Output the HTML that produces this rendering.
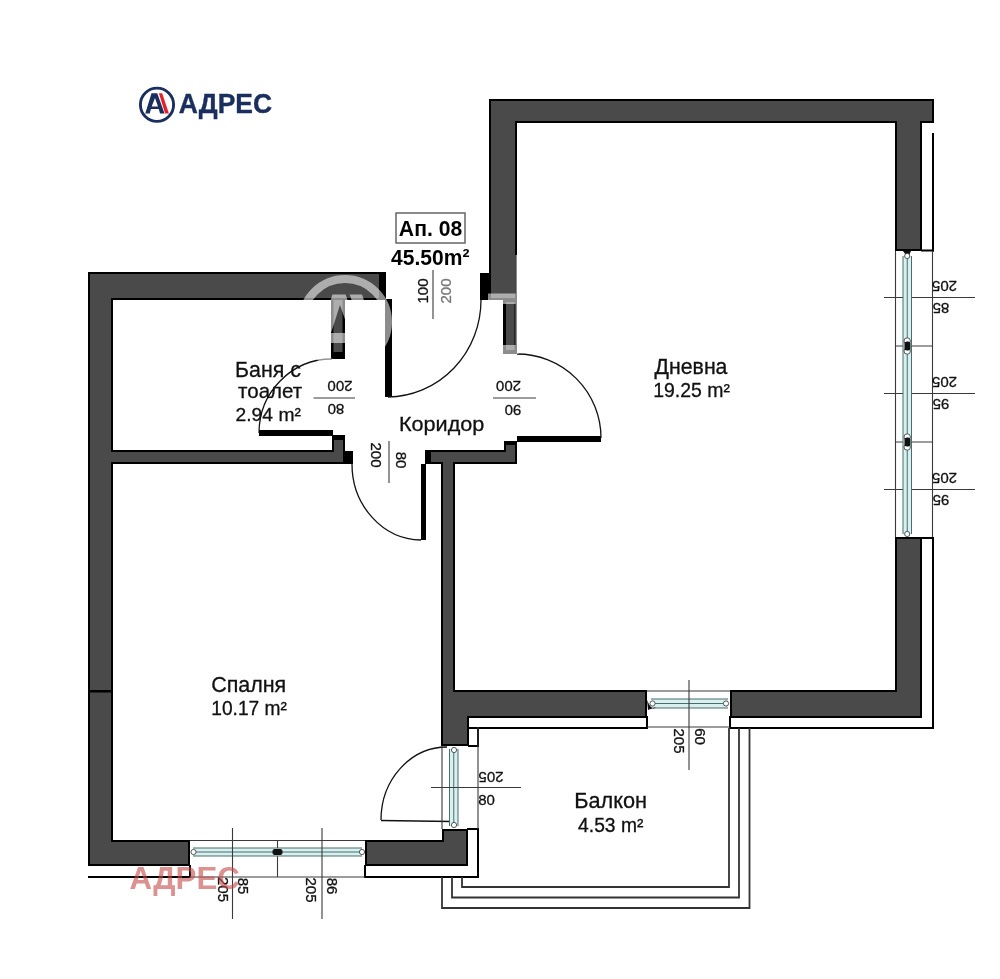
<!DOCTYPE html>
<html><head><meta charset="utf-8"><style>
html,body{margin:0;padding:0;background:#fff;}
body{width:1000px;height:979px;overflow:hidden;font-family:"Liberation Sans",sans-serif;}
svg{display:block;filter:blur(0.35px);}
</style></head><body>
<svg width="1000" height="979" viewBox="0 0 1000 979"><rect width="1000" height="979" fill="#ffffff"/><path d="M491.0,101.0H932.0V121.0H491.0ZM491.0,101.0H515.0V298.0H491.0ZM897.0,101.0H920.0V249.0H897.0ZM897.0,539.0H920.0V716.0H897.0ZM443.0,692.0H645.0V716.0H443.0ZM732.0,692.0H920.0V716.0H732.0ZM443.0,457.0H453.0V698.0H443.0ZM443.0,692.0H467.0V744.0H443.0ZM427.0,452.0H515.0V462.0H427.0ZM506.0,443.0H515.0V462.0H506.0ZM90.0,274.0H384.0V298.0H90.0ZM90.0,274.0H111.0V864.0H90.0ZM102.0,452.0H343.0V462.0H102.0ZM334.0,437.0H343.0V462.0H334.0ZM90.0,842.0H188.0V864.0H90.0ZM367.0,842.0H466.0V864.0H367.0ZM444.0,831.0H466.0V864.0H444.0Z" fill="#000" stroke="#000" stroke-width="4.0"/><path d="M491.0,101.0H932.0V121.0H491.0ZM491.0,101.0H515.0V298.0H491.0ZM897.0,101.0H920.0V249.0H897.0ZM897.0,539.0H920.0V716.0H897.0ZM443.0,692.0H645.0V716.0H443.0ZM732.0,692.0H920.0V716.0H732.0ZM443.0,457.0H453.0V698.0H443.0ZM443.0,692.0H467.0V744.0H443.0ZM427.0,452.0H515.0V462.0H427.0ZM506.0,443.0H515.0V462.0H506.0ZM90.0,274.0H384.0V298.0H90.0ZM90.0,274.0H111.0V864.0H90.0ZM102.0,452.0H343.0V462.0H102.0ZM334.0,437.0H343.0V462.0H334.0ZM90.0,842.0H188.0V864.0H90.0ZM367.0,842.0H466.0V864.0H367.0ZM444.0,831.0H466.0V864.0H444.0Z" fill="#4a4a4a"/><rect x="932.0" y="133" width="2.0" height="118.5" fill="#000"/><rect x="921" y="249.5" width="13" height="2.0" fill="#000"/><rect x="921" y="537.0" width="13" height="2.0" fill="#000"/><rect x="932.0" y="537" width="2.0" height="192" fill="#000"/><rect x="729" y="727.0" width="205" height="2.0" fill="#000"/><rect x="468" y="727.0" width="180" height="2.0" fill="#000"/><rect x="646.0" y="716" width="2.0" height="13" fill="#000"/><rect x="729.0" y="716" width="2.0" height="13" fill="#000"/><rect x="477.0" y="727" width="2.0" height="20" fill="#000"/><rect x="468" y="745.0" width="11" height="2.0" fill="#000"/><rect x="88" y="876.0" width="103" height="2.0" fill="#000"/><rect x="189.0" y="865" width="2.0" height="13" fill="#000"/><rect x="364.0" y="865" width="2.0" height="13" fill="#000"/><rect x="364" y="876.0" width="115" height="2.0" fill="#000"/><rect x="477.0" y="828" width="2.0" height="50" fill="#000"/><rect x="467" y="828.0" width="12" height="2.0" fill="#000"/><rect x="88" y="690" width="25" height="2.5" fill="#000"/><rect x="480" y="273" width="10" height="27" fill="#000"/><rect x="503" y="300" width="14" height="54" fill="#000"/><rect x="506" y="302" width="8.5" height="48" fill="#4a4a4a"/><path d="M379,272 H383 Q386,272 386,275 V300 H379 Z" fill="#000"/><rect x="331" y="300" width="14" height="59" fill="#000"/><rect x="333.5" y="300" width="9" height="52" fill="#4a4a4a"/><rect x="345" y="451" width="8" height="13" fill="#000"/><rect x="332" y="435" width="13" height="5" fill="#000"/><rect x="504" y="441" width="13" height="4" fill="#000"/><rect x="425" y="450" width="6" height="14" fill="#000"/><rect x="385" y="299" width="7" height="98" fill="#000"/><rect x="259" y="430" width="74" height="6" fill="#000"/><rect x="517" y="436" width="84" height="6" fill="#000"/><rect x="421" y="464" width="5" height="76" fill="#000"/><path d="M481,300 A94,97 0 0 1 388,397" fill="none" stroke="#111" stroke-width="1.3"/><path d="M332,359 A73,74 0 0 0 259,433" fill="none" stroke="#111" stroke-width="1.3"/><path d="M517,354 A84,84 0 0 1 601,438" fill="none" stroke="#111" stroke-width="1.3"/><path d="M352,464 A70,76 0 0 0 421,540" fill="none" stroke="#111" stroke-width="1.3"/><path d="M447,747 A66,73 0 0 0 381,820" fill="none" stroke="#111" stroke-width="1.3"/><line x1="381" y1="820.5" x2="452" y2="821.5" stroke="#111" stroke-width="1.5"/><line x1="895.5" y1="251" x2="895.5" y2="537" stroke="#3a3a3a" stroke-width="1.1"/><line x1="932.5" y1="251" x2="932.5" y2="537" stroke="#3a3a3a" stroke-width="1.1"/><line x1="895" y1="346" x2="933" y2="346" stroke="#3a3a3a" stroke-width="1.1"/><line x1="895" y1="442" x2="933" y2="442" stroke="#3a3a3a" stroke-width="1.1"/><line x1="884" y1="297.5" x2="975" y2="297.5" stroke="#3a3a3a" stroke-width="1.1"/><line x1="884" y1="393.5" x2="975" y2="393.5" stroke="#3a3a3a" stroke-width="1.1"/><line x1="884" y1="489.5" x2="975" y2="489.5" stroke="#3a3a3a" stroke-width="1.1"/><rect x="903" y="256" width="8.5" height="278" fill="#d9f0f1"/><rect x="902.5" y="256" width="1" height="278" fill="#4a6d6e"/><rect x="906.75" y="256" width="1" height="278" fill="#4a6d6e"/><rect x="911.0" y="256" width="1" height="278" fill="#4a6d6e"/><path d="M903,251 L911,251 L908,258 Z" fill="#111"/><circle cx="907.2" cy="256" r="2.6" fill="#fff" stroke="#444" stroke-width="0.9"/><circle cx="907.2" cy="534" r="2.6" fill="#fff" stroke="#444" stroke-width="0.9"/><circle cx="907.2" cy="341" r="3.2" fill="#fff" stroke="#444" stroke-width="0.9"/><circle cx="907.2" cy="351" r="3.2" fill="#fff" stroke="#444" stroke-width="0.9"/><rect x="904.5" y="341.5" width="6" height="9" rx="2.5" fill="#111"/><circle cx="907.2" cy="437" r="3.2" fill="#fff" stroke="#444" stroke-width="0.9"/><circle cx="907.2" cy="447" r="3.2" fill="#fff" stroke="#444" stroke-width="0.9"/><rect x="904.5" y="437.5" width="6" height="9" rx="2.5" fill="#111"/><line x1="647" y1="691" x2="730" y2="691" stroke="#3a3a3a" stroke-width="1.1"/><line x1="647" y1="727" x2="730" y2="727" stroke="#3a3a3a" stroke-width="1.1"/><rect x="651" y="699" width="77" height="9" fill="#d9f0f1"/><rect x="651" y="698.5" width="77" height="1" fill="#4a6d6e"/><rect x="651" y="703.0" width="77" height="1" fill="#4a6d6e"/><rect x="651" y="707.5" width="77" height="1" fill="#4a6d6e"/><circle cx="652.5" cy="703.5" r="2.6" fill="#fff" stroke="#444" stroke-width="0.9"/><circle cx="726" cy="703.5" r="2.6" fill="#fff" stroke="#444" stroke-width="0.9"/><path d="M647,700 Q652,712 656,707 L648,710 Z" fill="#111"/><line x1="442" y1="746" x2="442" y2="829" stroke="#3a3a3a" stroke-width="1.1"/><line x1="478" y1="727" x2="478" y2="829" stroke="#3a3a3a" stroke-width="1.1"/><rect x="449.5" y="749" width="8.5" height="77" fill="#d9f0f1"/><rect x="449.0" y="749" width="1" height="77" fill="#4a6d6e"/><rect x="453.25" y="749" width="1" height="77" fill="#4a6d6e"/><rect x="457.5" y="749" width="1" height="77" fill="#4a6d6e"/><circle cx="454" cy="750" r="2.6" fill="#fff" stroke="#444" stroke-width="0.9"/><circle cx="454" cy="825" r="2.6" fill="#fff" stroke="#444" stroke-width="0.9"/><line x1="190" y1="840.5" x2="365" y2="840.5" stroke="#3a3a3a" stroke-width="1.1"/><line x1="190" y1="877" x2="365" y2="877" stroke="#3a3a3a" stroke-width="1.1"/><line x1="277.5" y1="840" x2="277.5" y2="877" stroke="#3a3a3a" stroke-width="1.1"/><rect x="193" y="848" width="169" height="8" fill="#d9f0f1"/><rect x="193" y="847.5" width="169" height="1" fill="#4a6d6e"/><rect x="193" y="851.5" width="169" height="1" fill="#4a6d6e"/><rect x="193" y="855.5" width="169" height="1" fill="#4a6d6e"/><circle cx="193.5" cy="852" r="2.6" fill="#fff" stroke="#444" stroke-width="0.9"/><circle cx="275" cy="852" r="2.6" fill="#fff" stroke="#444" stroke-width="0.9"/><circle cx="280" cy="852" r="2.6" fill="#fff" stroke="#444" stroke-width="0.9"/><circle cx="362" cy="852" r="2.6" fill="#fff" stroke="#444" stroke-width="0.9"/><rect x="273" y="849" width="9" height="6" rx="2" fill="#111"/><line x1="689" y1="680" x2="689" y2="770" stroke="#3a3a3a" stroke-width="1.1"/><line x1="431" y1="787.5" x2="521" y2="787.5" stroke="#3a3a3a" stroke-width="1.1"/><line x1="232.5" y1="828" x2="232.5" y2="919" stroke="#3a3a3a" stroke-width="1.1"/><line x1="322" y1="828" x2="322" y2="919" stroke="#3a3a3a" stroke-width="1.1"/><line x1="433" y1="270" x2="433" y2="319" stroke="#3a3a3a" stroke-width="1.1"/><line x1="313.5" y1="398" x2="355" y2="398" stroke="#3a3a3a" stroke-width="1.1"/><line x1="493" y1="398" x2="536" y2="398" stroke="#3a3a3a" stroke-width="1.1"/><line x1="389" y1="441" x2="389" y2="483" stroke="#3a3a3a" stroke-width="1.1"/><path d="M462,877 V887 H729 V728" fill="none" stroke="#333" stroke-width="1.8"/><path d="M452,877 V897.5 H739 V728" fill="none" stroke="#333" stroke-width="1.8"/><path d="M442,877 V908 H749.5 V728" fill="none" stroke="#333" stroke-width="1.8"/><g opacity="0.55" fill="#fff"><circle cx="345" cy="322" r="43" fill="none" stroke="#fff" stroke-width="8"/><path d="M332.4,294.6 L345.6,294.6 L366.3,353.6 L354.3,353.6 L353.3,343 L327.8,343 L324.4,353.6 L314.1,353.6 Z M340,305 L349.8,333 L331,333 Z" fill-rule="evenodd"/><path d="M349.7,294.6 L362,294.6 L382.6,353.6 L370.3,353.6 Z"/><rect x="488" y="293.5" width="29" height="7.5"/><rect x="503" y="300" width="14" height="4"/><rect x="515.5" y="255" width="3" height="99"/><rect x="503" y="345" width="14" height="9"/></g><text x="0" y="0" font-family="Liberation Sans, sans-serif" font-size="22.46" font-weight="normal" fill="#111" transform="translate(235.09,377) scale(0.9516,1)" stroke="#111" stroke-width="0.3">Баня с</text><text x="0" y="0" font-family="Liberation Sans, sans-serif" font-size="20.37" font-weight="normal" fill="#111" transform="translate(238.09,398) scale(1.0088,1)" stroke="#111" stroke-width="0.3">тоалет</text><text x="0" y="0" font-family="Liberation Sans, sans-serif" font-size="19.29" font-weight="normal" fill="#111" transform="translate(235.54,421) scale(0.9996,1)" stroke="#111" stroke-width="0.3">2.94 m²</text><text x="0" y="0" font-family="Liberation Sans, sans-serif" font-size="21.01" font-weight="normal" fill="#111" transform="translate(398.97,431) scale(1.03,1)" stroke="#111" stroke-width="0.3">Коридор</text><text x="0" y="0" font-family="Liberation Sans, sans-serif" font-size="21.3" font-weight="normal" fill="#111" transform="translate(654.59,374.3) scale(0.9992,1)" stroke="#111" stroke-width="0.3">Дневна</text><text x="0" y="0" font-family="Liberation Sans, sans-serif" font-size="20.0" font-weight="normal" fill="#111" transform="translate(653.24,396.7) scale(0.9727,1)" stroke="#111" stroke-width="0.3">19.25 m²</text><text x="0" y="0" font-family="Liberation Sans, sans-serif" font-size="21.43" font-weight="normal" fill="#111" transform="translate(211.13,692) scale(1.0024,1)" stroke="#111" stroke-width="0.3">Спалня</text><text x="0" y="0" font-family="Liberation Sans, sans-serif" font-size="19.71" font-weight="normal" fill="#111" transform="translate(211.27,715.4) scale(0.9723,1)" stroke="#111" stroke-width="0.3">10.17 m²</text><text x="0" y="0" font-family="Liberation Sans, sans-serif" font-size="21.74" font-weight="normal" fill="#111" transform="translate(574.26,808) scale(0.9991,1)" stroke="#111" stroke-width="0.3">Балкон</text><text x="0" y="0" font-family="Liberation Sans, sans-serif" font-size="19.29" font-weight="normal" fill="#111" transform="translate(578.11,831.5) scale(0.9983,1)" stroke="#111" stroke-width="0.3">4.53 m²</text><rect x="396" y="213" width="69" height="30" fill="none" stroke="#666" stroke-width="1.5"/><text x="0" y="0" font-family="Liberation Sans, sans-serif" font-size="22.86" font-weight="bold" fill="#000" transform="translate(398.87,236) scale(0.9258,1)" >Ап. 08</text><text x="0" y="0" font-family="Liberation Sans, sans-serif" font-size="22.86" font-weight="bold" fill="#000" transform="translate(391.08,265) scale(0.9214,1)" >45.50m²</text><text x="0" y="0" font-family="Liberation Sans, sans-serif" font-size="15" fill="#111" stroke="#111" stroke-width="0.3" text-anchor="middle" dominant-baseline="central" transform="translate(340,386.5) rotate(180)">200</text><text x="0" y="0" font-family="Liberation Sans, sans-serif" font-size="15" fill="#111" stroke="#111" stroke-width="0.3" text-anchor="middle" dominant-baseline="central" transform="translate(336,409) rotate(180)">80</text><text x="0" y="0" font-family="Liberation Sans, sans-serif" font-size="15" fill="#111" stroke="#111" stroke-width="0.3" text-anchor="middle" dominant-baseline="central" transform="translate(508.5,386) rotate(180)">200</text><text x="0" y="0" font-family="Liberation Sans, sans-serif" font-size="15" fill="#111" stroke="#111" stroke-width="0.3" text-anchor="middle" dominant-baseline="central" transform="translate(513,410) rotate(180)">90</text><text x="0" y="0" font-family="Liberation Sans, sans-serif" font-size="15" fill="#111" stroke="#111" stroke-width="0.3" text-anchor="middle" dominant-baseline="central" transform="translate(422,291) rotate(-90)">100</text><text x="0" y="0" font-family="Liberation Sans, sans-serif" font-size="15" fill="#777" stroke="#777" stroke-width="0.3" text-anchor="middle" dominant-baseline="central" transform="translate(445.5,291) rotate(-90)">200</text><text x="0" y="0" font-family="Liberation Sans, sans-serif" font-size="15" fill="#111" stroke="#111" stroke-width="0.3" text-anchor="middle" dominant-baseline="central" transform="translate(376.5,455) rotate(90)">200</text><text x="0" y="0" font-family="Liberation Sans, sans-serif" font-size="15" fill="#111" stroke="#111" stroke-width="0.3" text-anchor="middle" dominant-baseline="central" transform="translate(401,460) rotate(90)">80</text><text x="0" y="0" font-family="Liberation Sans, sans-serif" font-size="15" fill="#111" stroke="#111" stroke-width="0.3" text-anchor="middle" dominant-baseline="central" transform="translate(944.5,286.5) rotate(180)">205</text><text x="0" y="0" font-family="Liberation Sans, sans-serif" font-size="15" fill="#111" stroke="#111" stroke-width="0.3" text-anchor="middle" dominant-baseline="central" transform="translate(944.5,382.5) rotate(180)">205</text><text x="0" y="0" font-family="Liberation Sans, sans-serif" font-size="15" fill="#111" stroke="#111" stroke-width="0.3" text-anchor="middle" dominant-baseline="central" transform="translate(944.5,478.5) rotate(180)">205</text><text x="0" y="0" font-family="Liberation Sans, sans-serif" font-size="15" fill="#111" stroke="#111" stroke-width="0.3" text-anchor="middle" dominant-baseline="central" transform="translate(941,308) rotate(180)">85</text><text x="0" y="0" font-family="Liberation Sans, sans-serif" font-size="15" fill="#111" stroke="#111" stroke-width="0.3" text-anchor="middle" dominant-baseline="central" transform="translate(941,404) rotate(180)">95</text><text x="0" y="0" font-family="Liberation Sans, sans-serif" font-size="15" fill="#111" stroke="#111" stroke-width="0.3" text-anchor="middle" dominant-baseline="central" transform="translate(941,500) rotate(180)">95</text><text x="0" y="0" font-family="Liberation Sans, sans-serif" font-size="15" fill="#111" stroke="#111" stroke-width="0.3" text-anchor="middle" dominant-baseline="central" transform="translate(679,741) rotate(90)">205</text><text x="0" y="0" font-family="Liberation Sans, sans-serif" font-size="15" fill="#111" stroke="#111" stroke-width="0.3" text-anchor="middle" dominant-baseline="central" transform="translate(700,736.5) rotate(90)">60</text><text x="0" y="0" font-family="Liberation Sans, sans-serif" font-size="15" fill="#111" stroke="#111" stroke-width="0.3" text-anchor="middle" dominant-baseline="central" transform="translate(491,777) rotate(180)">205</text><text x="0" y="0" font-family="Liberation Sans, sans-serif" font-size="15" fill="#111" stroke="#111" stroke-width="0.3" text-anchor="middle" dominant-baseline="central" transform="translate(486.5,799) rotate(0)">80</text><text x="0" y="0" font-family="Liberation Sans, sans-serif" font-size="15" fill="#111" stroke="#111" stroke-width="0.3" text-anchor="middle" dominant-baseline="central" transform="translate(223,889.5) rotate(90)">205</text><text x="0" y="0" font-family="Liberation Sans, sans-serif" font-size="15" fill="#111" stroke="#111" stroke-width="0.3" text-anchor="middle" dominant-baseline="central" transform="translate(243.5,886) rotate(90)">85</text><text x="0" y="0" font-family="Liberation Sans, sans-serif" font-size="15" fill="#111" stroke="#111" stroke-width="0.3" text-anchor="middle" dominant-baseline="central" transform="translate(311.5,890) rotate(90)">205</text><text x="0" y="0" font-family="Liberation Sans, sans-serif" font-size="15" fill="#111" stroke="#111" stroke-width="0.3" text-anchor="middle" dominant-baseline="central" transform="translate(332.5,886) rotate(90)">86</text><circle cx="157" cy="104.75" r="16.6" fill="none" stroke="#1b2f5e" stroke-width="2.9"/><path d="M145.25,113.5 L151.5,93.25 L157.25,93.25 L164.5,113.5 L160,113.5 L158.8,109 L150.9,109 L149.75,113.5 Z M151.7,106.5 L158,106.5 L155,98 Z" fill="#1b2f5e" fill-rule="evenodd"/><path d="M158.9,93.25 L162.2,93.25 L168.9,113.5 L165.1,113.5 Z" fill="#e3202c"/><text x="0" y="0" font-family="Liberation Sans, sans-serif" font-size="28.0" font-weight="bold" fill="#1b2f5e" transform="translate(178.71,113.4) scale(0.9459,1)" stroke="#1b2f5e" stroke-width="0.4">АДРЕС</text><text x="0" y="0" font-family="Liberation Sans, sans-serif" font-size="31.0" font-weight="bold" fill="#c84a4a" transform="translate(129.56,888.5) scale(1.0086,1)" opacity="0.6">АДРЕС</text></svg>
</body></html>
